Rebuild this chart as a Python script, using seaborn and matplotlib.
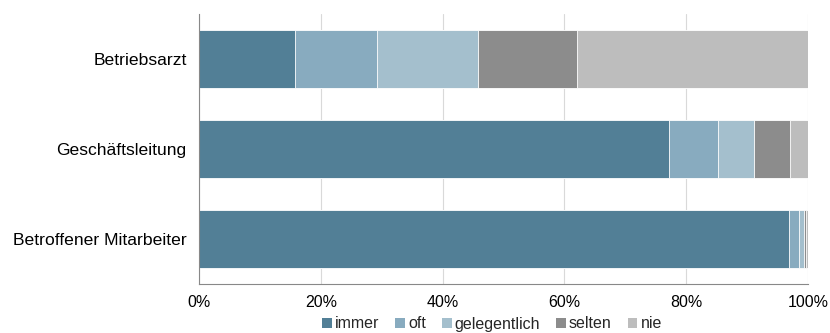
import numpy as np
import pandas as pd
import matplotlib
matplotlib.use("Agg")
import matplotlib.pyplot as plt
import seaborn as sns
from matplotlib.patches import Patch
from matplotlib.ticker import PercentFormatter

categories = ["Betriebsarzt", "Geschäftsleitung", "Betroffener Mitarbeiter"]
series_names = ["immer", "oft", "gelegentlich", "selten", "nie"]
immer = [15.8, 77.1, 96.9]
oft = [13.5, 8.2, 1.7]
gelegentlich = [16.5, 5.8, 0.7]
selten = [16.3, 6.0, 0.4]
nie = [37.9, 2.9, 0.3]
colors = ["#527F96", "#88ABBF", "#A4BFCD", "#8C8C8C", "#BDBDBD"]
xticks = [0, 20, 40, 60, 80, 100]

sns.set_theme(style="white")
plt.rcParams['font.family'] = ['Liberation Sans', 'DejaVu Sans']

df = pd.DataFrame({"cat": categories, "immer": immer, "oft": oft,
                   "gelegentlich": gelegentlich, "selten": selten, "nie": nie})
cum = df[series_names].cumsum(axis=1)

fig = plt.figure(figsize=(8.3, 3.33), dpi=100)
ax = fig.add_axes([199/830, 1-284/333, 609/830, 270/333])

for name, col in reversed(list(zip(series_names, colors))):
    sns.barplot(x=cum[name], y=df["cat"], color=col, saturation=1, orient="h", width=0.65,
                edgecolor="white", linewidth=0.6, ax=ax, zorder=2)

ax.set_xlim(0, 100)
ax.set_xticks(xticks)
ax.xaxis.set_major_formatter(PercentFormatter(decimals=0))
ax.set_xlabel("")
ax.set_ylabel("")
ax.grid(axis="x", color="#D9D9D9", linewidth=0.8, zorder=0)
ax.set_axisbelow(True)
for s in ["top", "right"]:
    ax.spines[s].set_visible(False)
for s in ["left", "bottom"]:
    ax.spines[s].set_color("#888888")
    ax.spines[s].set_linewidth(0.8)
ax.tick_params(axis="both", length=0, colors="black")
ax.tick_params(axis="x", pad=8, labelsize=11.5)
ax.tick_params(axis="y", pad=9, labelsize=12.6)

handles = [Patch(facecolor=c, edgecolor="none") for c in colors]
fig.legend(handles, series_names, loc="center", bbox_to_anchor=(492/830, 1-324/333),
           ncol=5, frameon=False, fontsize=11.5, handlelength=0.6, handleheight=0.6,
           handletextpad=0.2, columnspacing=1.0, borderpad=0)

fig.savefig("out.png", dpi=100)
